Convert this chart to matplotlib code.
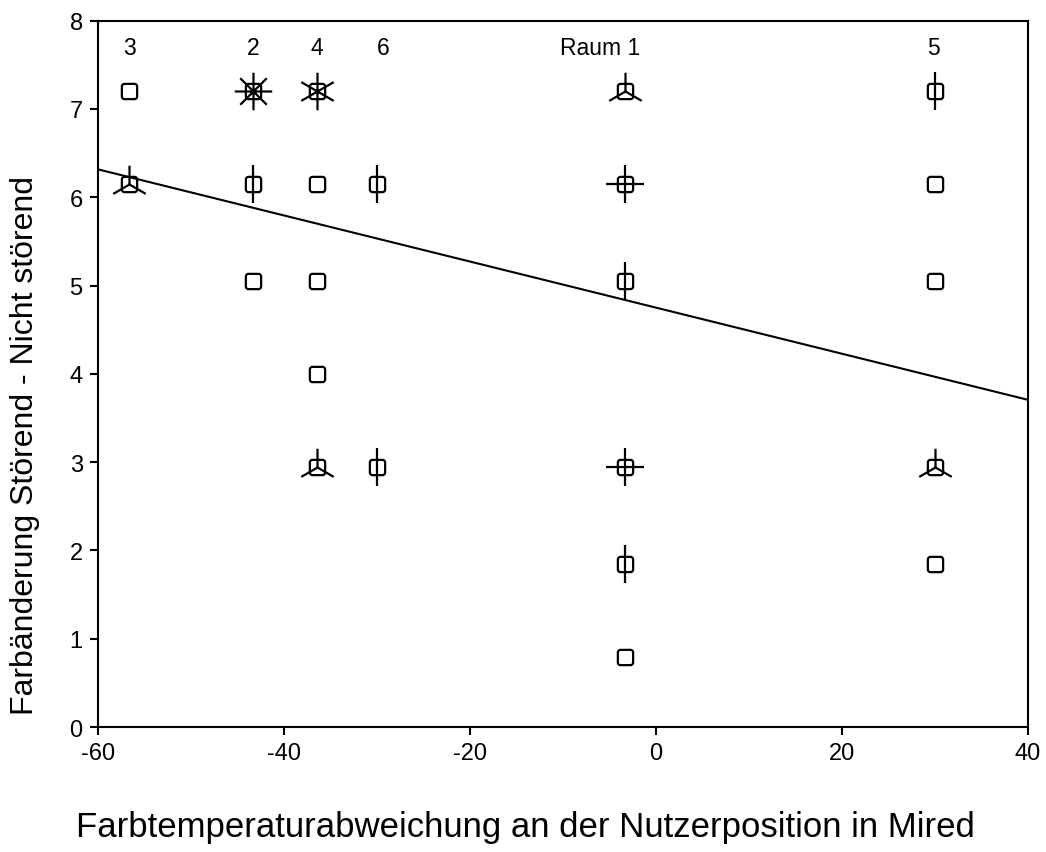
import numpy as np
import matplotlib
matplotlib.use("Agg")
import matplotlib.pyplot as plt
from matplotlib.path import Path

plt.rcParams['font.family'] = ['Liberation Sans', 'DejaVu Sans']
plt.rcParams['axes.unicode_minus'] = False

# ---- data ----
point_x = [-56.7, -56.7,
           -43.3, -43.3, -43.3,
           -36.5, -36.5, -36.5, -36.5, -36.5,
           -30.0, -30.0,
           -3.3, -3.3, -3.3, -3.3, -3.3, -3.3,
           30.0, 30.0, 30.0, 30.0, 30.0]
point_y = [7.2, 6.15,
           7.2, 6.15, 5.05,
           7.2, 6.15, 5.05, 4.0, 2.95,
           6.15, 2.95,
           7.2, 6.15, 5.05, 2.95, 1.85, 0.79,
           7.2, 6.15, 5.05, 2.95, 1.85]
point_count = [1, 3,
               8, 2, 1,
               6, 1, 1, 1, 3,
               2, 2,
               3, 4, 2, 4, 2, 1,
               2, 1, 1, 3, 1]

room_labels = ["3", "2", "4", "6", "Raum 1", "5"]
room_label_x = [-56.6, -43.3, -36.5, -29.3, -6.0, 29.8]
room_label_y = 7.7

line_intercept = 4.75
line_slope = -0.0261

xlabel = "Farbtemperaturabweichung an der Nutzerposition in Mired"
ylabel = "Farbänderung Störend - Nicht störend"


# ---- marker shapes ----
def rounded_square(r=0.35):
    verts, codes = [], []
    a = 1.0
    b = a - r
    verts += [(-b, -a)]; codes += [Path.MOVETO]
    verts += [(b, -a)]; codes += [Path.LINETO]
    verts += [(a, -a), (a, -b)]; codes += [Path.CURVE3, Path.CURVE3]
    verts += [(a, b)]; codes += [Path.LINETO]
    verts += [(a, a), (b, a)]; codes += [Path.CURVE3, Path.CURVE3]
    verts += [(-b, a)]; codes += [Path.LINETO]
    verts += [(-a, a), (-a, b)]; codes += [Path.CURVE3, Path.CURVE3]
    verts += [(-a, -b)]; codes += [Path.LINETO]
    verts += [(-a, -a), (-b, -a)]; codes += [Path.CURVE3, Path.CURVE3]
    verts += [(0, 0)]; codes += [Path.CLOSEPOLY]
    return Path(verts, codes)


def rays(n):
    verts, codes = [], []
    for k in range(n):
        ang = np.pi / 2 + 2 * np.pi * k / n
        verts += [(0, 0), (np.cos(ang), np.sin(ang))]
        codes += [Path.MOVETO, Path.LINETO]
    return Path(verts, codes)


fig = plt.figure(figsize=(10.46, 8.53), dpi=100)
ax = fig.add_axes([0.0937, 0.1465, 0.889, 0.8281])

sq = rounded_square()
for x, y, c in zip(point_x, point_y, point_count):
    ax.plot([x], [y], linestyle='none', marker=sq, markersize=11,
            markerfacecolor='none', markeredgecolor='black',
            markeredgewidth=1.6, zorder=3)
    if c > 1:
        ax.plot([x], [y], linestyle='none', marker=rays(c), markersize=27,
                markeredgecolor='black', markeredgewidth=1.6, zorder=3)

xs = np.array([-60.0, 40.0])
ax.plot(xs, line_intercept + line_slope * xs, color='black', lw=1.5, zorder=2)

for lab, lx in zip(room_labels, room_label_x):
    ax.text(lx, room_label_y, lab, ha='center', va='center', fontsize=16.5)

ax.set_xlim(-60, 40)
ax.set_ylim(0, 8)
ax.set_xticks([-60, -40, -20, 0, 20, 40])
ax.set_yticks(range(0, 9))
ax.tick_params(direction='out', length=6, width=1.5, labelsize=17, pad=5)
for s in ax.spines.values():
    s.set_linewidth(1.5)

ax.set_xlabel(xlabel, fontsize=25)
ax.set_ylabel(ylabel, fontsize=23)
ax.xaxis.set_label_coords(0.46, -0.118)
ax.yaxis.set_label_coords(-0.062, 0.40)

fig.savefig("out.png", dpi=100)
